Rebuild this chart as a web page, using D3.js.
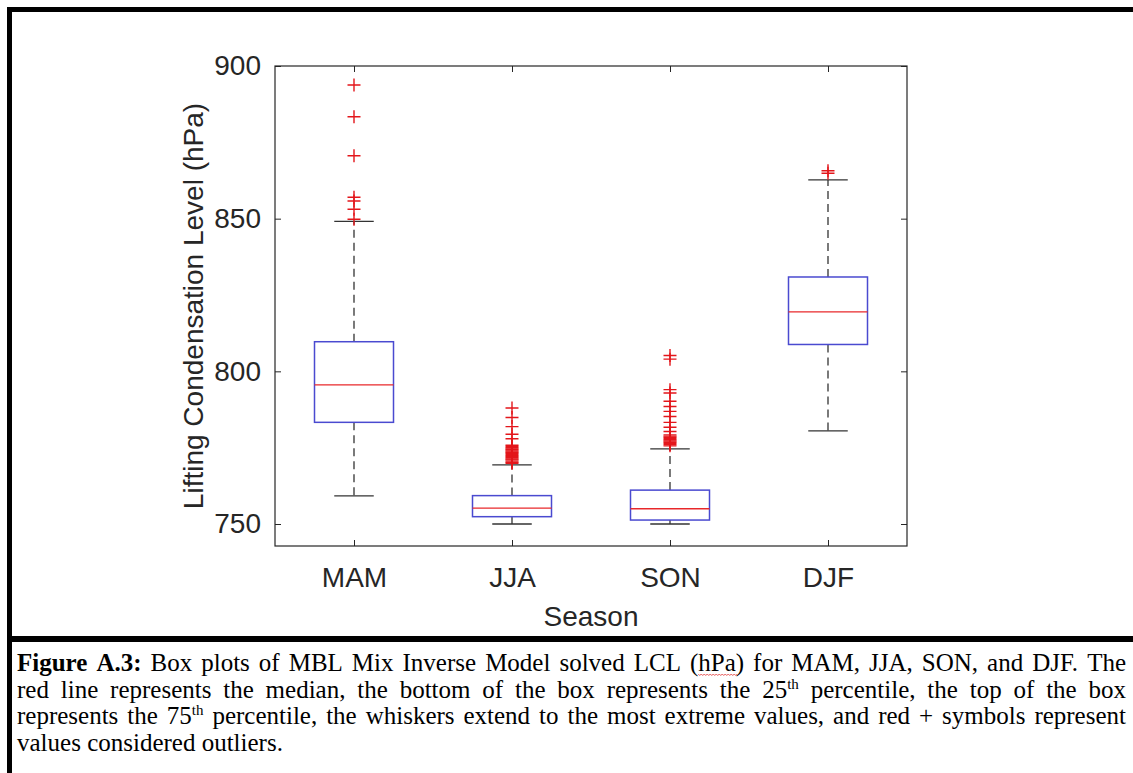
<!DOCTYPE html>
<html><head><meta charset="utf-8">
<script src="https://cdn.jsdelivr.net/npm/d3@7"></script>
<style>body{margin:0;background:#fff;} svg{display:block;}</style>
</head><body>
<svg id="c" width="1133" height="773"></svg>
<script>
// ---------- data ----------
const seasons = ["MAM", "JJA", "SON", "DJF"];
const q1 = [783.3, 752.4, 751.3, 808.8];
const medians = [795.6, 755.2, 755.0, 819.5];
const q3 = [809.7, 759.3, 761.1, 830.9];
const whiskerLow = [759.2, 750.0, 750.0, 780.5];
const whiskerHigh = [849.1, 769.4, 774.6, 862.7];
const outliersMAM = [893.8, 883.4, 870.6, 857.0, 855.8, 853.1, 849.8];
const outliersJJA = [788.0, 784.9, 781.9, 779.4, 777.9, 775.8, 775.4, 775.0, 774.6, 774.3, 773.9, 773.5,
  773.2, 772.8, 772.4, 772.1, 771.7, 771.3, 771.0, 770.6, 770.2, 769.9];
const outliersSON = [805.2, 804.0, 794.0, 792.9, 790.2, 788.5, 786.9, 785.2, 783.3, 781.7, 780.3, 779.2,
  778.8, 778.4, 778.0, 777.6, 777.2, 776.8, 776.4, 776.0, 775.6];
const outliersDJF = [865.7, 864.9];
const yTicks = [750, 800, 850, 900];
const yLabel = "Lifting Condensation Level (hPa)";
const xLabel = "Season";

const outliers = [outliersMAM, outliersJJA, outliersSON, outliersDJF];

// caption lines: words, each word = list of runs [text, style]
const captionLines = [
  [[["Figure", "b"]], [["A.3:", "b"]], "Box", "plots", "of", "MBL", "Mix", "Inverse", "Model", "solved", "LCL",
   [["(", ""], ["hPa", "sq"], [")", ""]], "for", "MAM,", "JJA,", "SON,", "and", "DJF.", "The"],
  ["red", "line", "represents", "the", "median,", "the", "bottom", "of", "the", "box", "represents", "the",
   [["25", ""], ["th", "sup"]], "percentile,", "the", "top", "of", "the", "box"],
  ["represents", "the", [["75", ""], ["th", "sup"]], "percentile,", "the", "whiskers", "extend", "to", "the", "most",
   "extreme", "values,", "and", "red", "+", "symbols", "represent"],
  ["values", "considered", "outliers."]
];

// ---------- layout ----------
const svg = d3.select("#c");
const L = 275, R = 907, T = 66, B = 546;
const x = d3.scaleLinear().domain([0.5, 4.5]).range([L, R]);
const y = d3.scaleLinear().domain([742.8, 900]).range([B, T]);
const axisCol = "#262626";
const font = "'Liberation Sans', Arial, Helvetica, sans-serif";

// frame
svg.append("rect").attr("x", 7).attr("y", 7).attr("width", 1126).attr("height", 5).attr("fill", "#000");
svg.append("rect").attr("x", 7).attr("y", 7).attr("width", 5).attr("height", 766).attr("fill", "#000");
svg.append("rect").attr("x", 7).attr("y", 636).attr("width", 1126).attr("height", 6).attr("fill", "#000");

// axes
const gL = svg.append("g").attr("transform", `translate(${L},0)`)
  .call(d3.axisLeft(y).tickValues(yTicks).tickSizeInner(-6).tickSizeOuter(0).tickPadding(14));
const gR = svg.append("g").attr("transform", `translate(${R},0)`)
  .call(d3.axisRight(y).tickValues(yTicks).tickSizeInner(-6).tickSizeOuter(0).tickFormat(""));
const gB = svg.append("g").attr("transform", `translate(0,${B})`)
  .call(d3.axisBottom(x).tickValues([1, 2, 3, 4]).tickFormat(d => seasons[d - 1]).tickSizeInner(-6).tickSizeOuter(0).tickPadding(21));
const gT = svg.append("g").attr("transform", `translate(0,${T})`)
  .call(d3.axisTop(x).tickValues([1, 2, 3, 4]).tickFormat("").tickSizeInner(-6).tickSizeOuter(0));
[gL, gR, gB, gT].forEach(g => {
  g.select(".domain").remove();
  g.selectAll(".tick line").attr("stroke", axisCol).attr("stroke-width", 1);
  g.selectAll("text").attr("fill", axisCol).attr("font-size", 28).attr("font-family", font);
});
svg.append("rect").attr("x", L).attr("y", T).attr("width", R - L).attr("height", B - T)
  .attr("fill", "none").attr("stroke", axisCol).attr("stroke-width", 1.2);

// axis labels
svg.append("text").attr("x", (L + R) / 2).attr("y", 626).attr("text-anchor", "middle")
  .attr("font-family", font).attr("font-size", 28).attr("fill", axisCol).text(xLabel);
svg.append("text").attr("transform", `translate(203,${(T + B) / 2}) rotate(-90)`).attr("text-anchor", "middle")
  .attr("font-family", font).attr("font-size", 28).attr("fill", axisCol).text(yLabel);

// boxes
const boxes = svg.append("g");
seasons.forEach((s, i) => {
  const p = i + 1;
  const g = boxes.append("g");
  const dash = "8,5", wcol = "#333";
  g.append("line").attr("x1", x(p)).attr("x2", x(p)).attr("y1", y(q3[i])).attr("y2", y(whiskerHigh[i]))
    .attr("stroke", wcol).attr("stroke-width", 1.3).attr("stroke-dasharray", dash);
  g.append("line").attr("x1", x(p)).attr("x2", x(p)).attr("y1", y(q1[i])).attr("y2", y(whiskerLow[i]))
    .attr("stroke", wcol).attr("stroke-width", 1.3).attr("stroke-dasharray", dash);
  [whiskerHigh[i], whiskerLow[i]].forEach(v => {
    g.append("line").attr("x1", x(p - 0.125)).attr("x2", x(p + 0.125)).attr("y1", y(v)).attr("y2", y(v))
      .attr("stroke", wcol).attr("stroke-width", 1.3);
  });
  g.append("rect").attr("x", x(p - 0.25)).attr("width", x(p + 0.25) - x(p - 0.25))
    .attr("y", y(q3[i])).attr("height", y(q1[i]) - y(q3[i]))
    .attr("fill", "none").attr("stroke", "#4a4ad0").attr("stroke-width", 1.5);
  g.append("line").attr("x1", x(p - 0.25)).attr("x2", x(p + 0.25)).attr("y1", y(medians[i])).attr("y2", y(medians[i]))
    .attr("stroke", "#e8282b").attr("stroke-width", 1.3);
  outliers[i].forEach(v => {
    const cx = x(p), cy = y(v), a = 6.5;
    g.append("path").attr("d", `M${cx - a},${cy}H${cx + a}M${cx},${cy - a}V${cy + a}`)
      .attr("stroke", "#e3161b").attr("stroke-width", 1.4).attr("fill", "none");
  });
});

// caption (justified)
const capL = 17, capR = 1126, capFs = 25, base0 = 671, lh = 26.6;
const cap = svg.append("g").attr("font-family", "'Liberation Serif', 'Times New Roman', serif")
  .attr("font-size", capFs).attr("fill", "#000");
captionLines.forEach((words, li) => {
  const by = base0 + li * lh;
  const els = words.map(w => {
    const runs = typeof w === "string" ? [[w, ""]] : w;
    const t = cap.append("text").attr("y", by);
    runs.forEach(([txt, st]) => {
      const ts = t.append("tspan").text(txt);
      if (st === "b") ts.attr("font-weight", "bold");
      if (st === "sup") ts.attr("font-size", 15).attr("dy", -9);
      if (st === "sq") ts.classed("sq", true);
    });
    return t;
  });
  const widths = els.map(t => t.node().getComputedTextLength());
  const total = d3.sum(widths);
  const last = li === captionLines.length - 1;
  const gap = last ? capFs * 0.25 : (capR - capL - total) / (els.length - 1);
  let cx = capL;
  els.forEach((t, k) => { t.attr("x", cx); cx += widths[k] + gap; });
});
// wavy spell-check underline under "hPa"
cap.selectAll("tspan.sq").each(function () {
  const bb = this.getBBox();
  const yy = bb.y + bb.height - 2;
  let d = `M${bb.x},${yy}`;
  for (let xx = bb.x; xx < bb.x + bb.width - 1; xx += 3) d += `l1.5,1.5l1.5,-1.5`;
  cap.append("path").attr("d", d).attr("stroke", "#e03030").attr("stroke-width", 0.8).attr("fill", "none");
});
</script>
</body></html>
